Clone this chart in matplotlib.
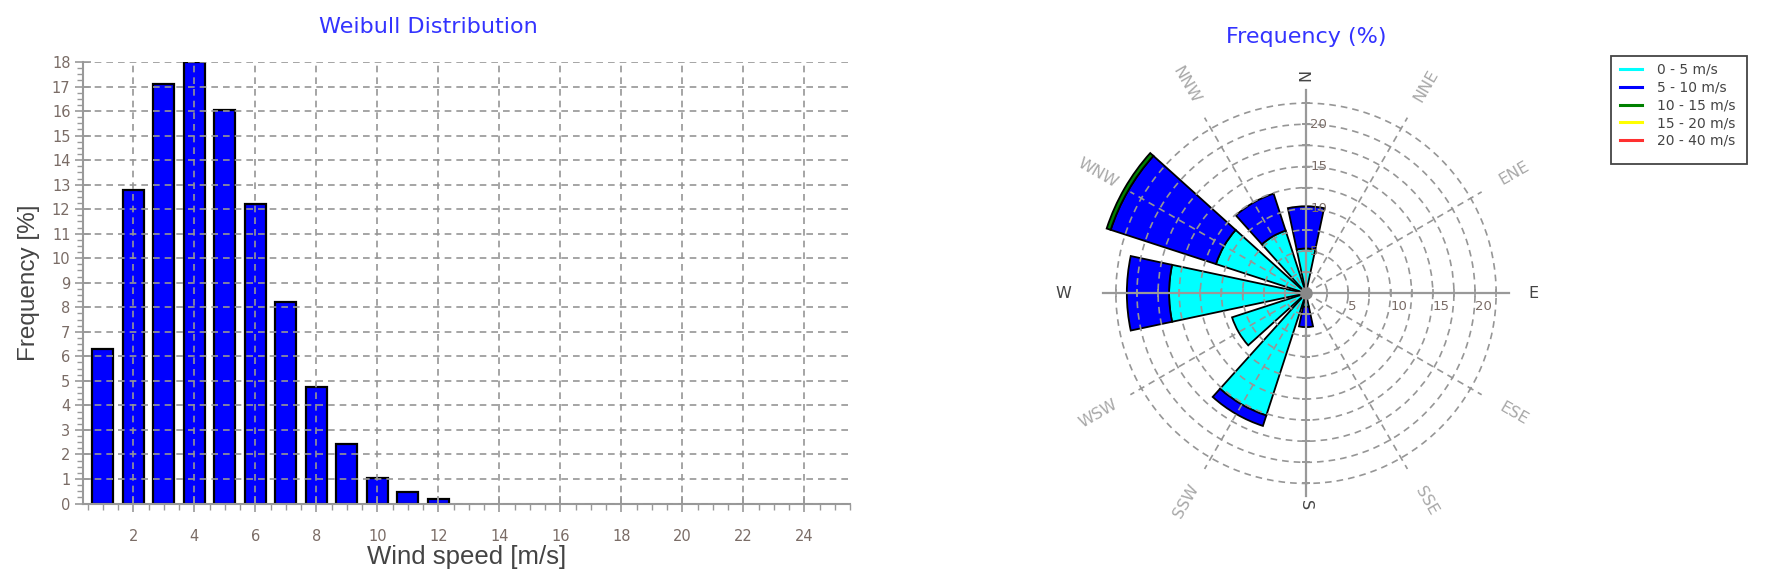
import numpy as np
import matplotlib
matplotlib.use("Agg")
import matplotlib.pyplot as plt
from matplotlib.lines import Line2D
from matplotlib.patches import Rectangle

# --- Weibull histogram data ---
wind_speed = [1, 2, 3, 4, 5, 6, 7, 8, 9, 10, 11, 12]
weibull_freq = [6.3, 12.8, 17.1, 18.0, 16.05, 12.2, 8.2, 4.75, 2.43, 1.05, 0.45, 0.18]

# --- wind rose data (frequency % per direction, per speed band) ---
directions = ['N', 'NNE', 'ENE', 'E', 'ESE', 'SSE', 'S', 'SSW', 'WSW', 'W', 'WNW', 'NNW']
band_labels = ['0 - 5 m/s', '5 - 10 m/s', '10 - 15 m/s', '15 - 20 m/s', '20 - 40 m/s']
band_colors = ['#00ffff', '#0000ff', '#008000', '#ffff00', '#ff3030']
freq_0_5 = [5.3, 0.4, 0.3, 0.3, 0.3, 0.4, 1.6, 15.2, 9.2, 16.2, 11.2, 7.8]
freq_5_10 = [5.0, 0.0, 0.0, 0.0, 0.0, 0.0, 2.4, 1.3, 0.0, 5.0, 13.1, 4.6]
freq_10_15 = [0.0, 0.0, 0.0, 0.0, 0.0, 0.0, 0.0, 0.0, 0.0, 0.0, 0.5, 0.0]
freq_15_20 = [0.0] * 12
freq_20_40 = [0.0] * 12
rose_rings = [2.5, 5, 7.5, 10, 12.5, 15, 17.5, 20, 22.5]
rose_labels = [5, 10, 15, 20]

GRID = '#969696'
TICKCOL = '#7a6c66'
W, H = 1770, 587

fig = plt.figure(figsize=(17.7, 5.87), dpi=100)

# ================= Weibull bar chart =================
ax = fig.add_axes([83 / W, 83.5 / H, 767 / W, 441.5 / H])
ax.bar(wind_speed, weibull_freq, width=0.68, color='#0000ff',
       edgecolor='black', linewidth=1.6, zorder=1)
ax.set_xlim(0.35, 25.5)
ax.set_ylim(0, 18)
ax.set_xticks(np.arange(2, 25, 2))
ax.set_xticks(np.arange(0.5, 25.6, 0.5), minor=True)
ax.set_yticks(np.arange(0, 19, 1))
ax.set_yticks(np.arange(0, 18.01, 0.25), minor=True)
ax.set_axisbelow(False)
ax.grid(True, which='major', color=GRID, linestyle=(0, (4, 3)), linewidth=1.2)
for s in ['top', 'right']:
    ax.spines[s].set_visible(False)
for s in ['left', 'bottom']:
    ax.spines[s].set_color('#999999')
    ax.spines[s].set_linewidth(1.5)
ax.tick_params(which='major', direction='inout', length=11, width=1.2,
               color='#999999', labelsize=10.5, labelcolor=TICKCOL)
ax.tick_params(which='minor', direction='out', length=4, width=1,
               color='#999999')
ax.tick_params(axis='x', which='major', pad=13)
ax.set_xlabel('Wind speed [m/s]', fontsize=18.5, color='#444444',
              family='Liberation Sans')
ax.set_ylabel('Frequency [%]', fontsize=17.5, color='#444444',
              family='Liberation Sans')
ax.xaxis.set_label_coords(0.5, -0.094)
ax.yaxis.set_label_coords(-0.056, 0.5)
fig.text(428 / W, 1 - 27 / H, 'Weibull Distribution', color='#3333ff',
         fontsize=16, ha='center', va='center')

# ================= wind rose =================
rmax = 25.5
pax = fig.add_axes([(1306 - 215.5) / W, (H - 293.3 - 215.5) / H,
                    431 / W, 431 / H], projection='polar')
pax.set_theta_zero_location('N')
pax.set_theta_direction(-1)
pax.set_ylim(0, rmax)
pax.spines['polar'].set_visible(False)
pax.set_xticks([])
pax.set_yticks(rose_rings)
pax.set_yticklabels([])
pax.yaxis.grid(True, color=GRID, linestyle=(0, (4, 3)), linewidth=1.2)
pax.set_axisbelow(False)

theta = np.deg2rad(np.arange(0, 360, 30))
width = np.deg2rad(24)
bands = [freq_0_5, freq_5_10, freq_10_15, freq_15_20, freq_20_40]
bottom = np.zeros(len(directions))
for vals, col, lab in zip(bands, band_colors, band_labels):
    vals = np.array(vals)
    mask = vals > 0
    pax.bar(theta[mask], vals[mask], width=width, bottom=bottom[mask],
            color=col, edgecolor='black', linewidth=1.3, label=lab, zorder=1)
    bottom = bottom + vals

# label radius for the main compass points
main_r = {'N': 25.8, 'E': 26.9, 'S': 25.0, 'W': 28.7}

# direction spokes and labels
for th, name in zip(theta, directions):
    if name in main_r:
        pax.plot([th, th], [0, 24], color='#999999', lw=1.6, zorder=3)
    else:
        pax.plot([th, th], [0, 24], color=GRID, lw=1.2,
                 linestyle=(0, (4, 3)), zorder=3)
    comp = np.rad2deg(th)
    rot = 90 - comp
    while rot > 90:
        rot -= 180
    while rot < -90:
        rot += 180
    if name in main_r:
        pax.text(th, main_r[name], name, rotation=rot, rotation_mode='anchor',
                 ha='center', va='center', fontsize=11.5, color='#444444')
    else:
        pax.text(th, 28.4, name, rotation=rot, rotation_mode='anchor',
                 ha='center', va='center', fontsize=11.5, color='#a8a8a8')

# axis ticks on the cross
for th, mk in zip(np.deg2rad([0, 90, 180, 270]), ['_', '|', '_', '|']):
    pax.plot([th] * len(rose_rings), rose_rings, linestyle='none', marker=mk,
             markersize=6, color='#999999', mew=1.2, zorder=3)
pax.plot([0], [0], marker='o', markersize=8, color='#888888', zorder=4)

# radial labels along N and E arms
for r in rose_labels:
    pax.annotate(str(r), (0, r), xytext=(3, 0), textcoords='offset points',
                 ha='left', va='center', fontsize=9.5, color=TICKCOL, zorder=5)
    pax.annotate(str(r), (np.pi / 2, r), xytext=(0, -5), textcoords='offset points',
                 ha='left', va='top', fontsize=9.5, color=TICKCOL, zorder=5)

fig.text(1306 / W, 1 - 37 / H, 'Frequency (%)', color='#3333ff',
         fontsize=16, ha='center', va='center')

# legend (frame drawn separately so it can be wider than the entries)
handles = [Line2D([], [], color=c, lw=2.2) for c in band_colors]
leg = fig.legend(handles, band_labels, loc='upper left',
                 bbox_to_anchor=(1613 / W, 1 - 56 / H),
                 frameon=False, fontsize=10,
                 handlelength=1.6, labelspacing=0.27, borderpad=0.5,
                 handletextpad=1.1, borderaxespad=0)
for t in leg.get_texts():
    t.set_color('#444444')
fig.patches.append(Rectangle((1611 / W, 1 - 164 / H), 136 / W, 108 / H,
                             transform=fig.transFigure, fill=False,
                             edgecolor='#444444', linewidth=1.3))

fig.savefig('out.png', dpi=100)
